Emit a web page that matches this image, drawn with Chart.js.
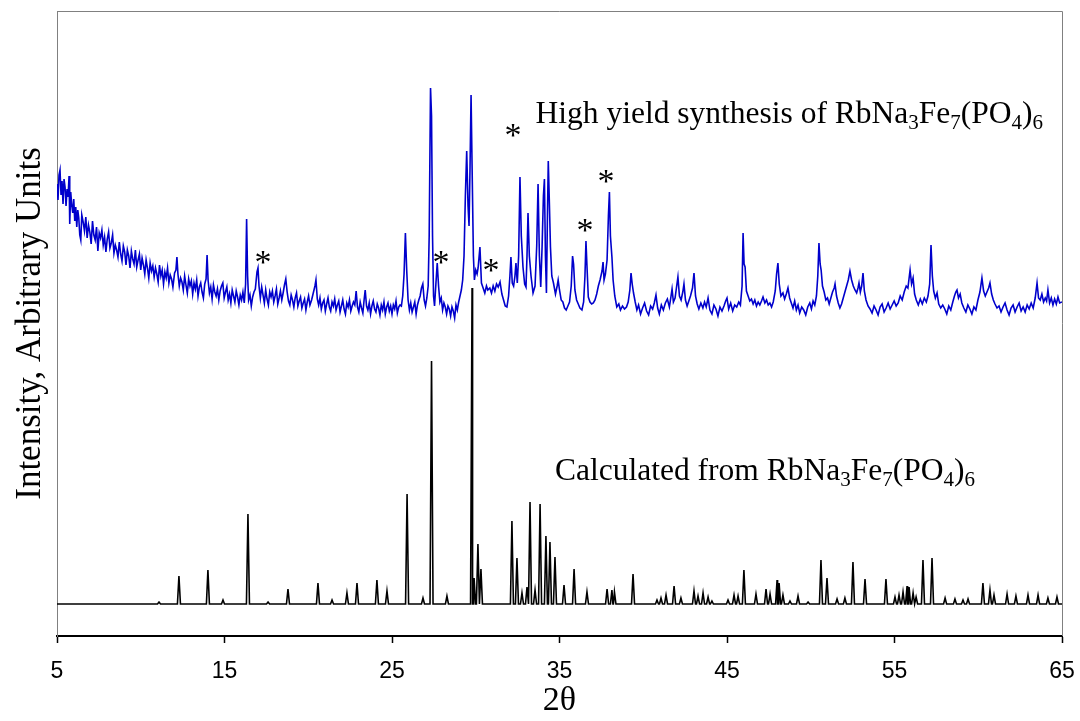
<!DOCTYPE html>
<html lang="en">
<head>
<meta charset="utf-8" />
<title>RbNa3Fe7(PO4)6 powder pattern</title>
<script src="https://cdn.jsdelivr.net/npm/chart.js"></script>
<style>
    html, body { margin: 0; padding: 0; background: #fff; }
    #xrd { display: block; }
</style>
</head>
<body>
<canvas id="xrd" width="1080" height="721"></canvas>
<script>
    const thetaTicks = [5, 15, 25, 35, 45, 55, 65];

    // measured pattern (2-theta, counts)
    const obsTheta = [
        5.00, 5.06, 5.12, 5.18, 5.24, 5.30, 5.36, 5.42, 5.48, 5.54,
        5.60, 5.66, 5.72, 5.76, 5.82, 5.88, 5.94, 6.00, 6.06, 6.12,
        6.18, 6.24, 6.30, 6.36, 6.42, 6.48, 6.56, 6.64, 6.72, 6.80,
        6.88, 6.96, 7.04, 7.12, 7.20, 7.28, 7.36, 7.44, 7.52, 7.60,
        7.68, 7.76, 7.84, 7.92, 8.00, 8.08, 8.16, 8.24, 8.32, 8.40,
        8.48, 8.56, 8.64, 8.72, 8.80, 8.88, 8.96, 9.04, 9.12, 9.20,
        9.28, 9.36, 9.44, 9.52, 9.60, 9.68, 9.76, 9.84, 9.92, 10.00,
        10.08, 10.16, 10.24, 10.32, 10.40, 10.48, 10.56, 10.64, 10.72, 10.80,
        10.88, 10.96, 11.04, 11.12, 11.20, 11.28, 11.36, 11.44, 11.52, 11.60,
        11.68, 11.76, 11.84, 11.92, 12.02, 12.10, 12.16, 12.22, 12.30, 12.38,
        12.46, 12.54, 12.62, 12.70, 12.78, 12.86, 12.94, 13.02, 13.10, 13.18,
        13.26, 13.34, 13.42, 13.50, 13.58, 13.66, 13.74, 13.82, 13.90, 13.96,
        14.02, 14.10, 14.18, 14.26, 14.34, 14.42, 14.50, 14.58, 14.66, 14.74,
        14.82, 14.90, 14.98, 15.06, 15.14, 15.22, 15.30, 15.38, 15.46, 15.54,
        15.62, 15.70, 15.78, 15.86, 15.94, 16.02, 16.10, 16.18, 16.26, 16.32,
        16.38, 16.44, 16.52, 16.60, 16.68, 16.76, 16.84, 16.94, 17.00, 17.06,
        17.14, 17.22, 17.30, 17.38, 17.46, 17.54, 17.62, 17.70, 17.78, 17.86,
        17.94, 18.02, 18.10, 18.18, 18.26, 18.34, 18.42, 18.50, 18.58, 18.66,
        18.74, 18.82, 18.90, 18.98, 19.06, 19.14, 19.22, 19.30, 19.38, 19.46,
        19.54, 19.62, 19.70, 19.78, 19.86, 19.94, 20.02, 20.10, 20.20, 20.30,
        20.40, 20.46, 20.54, 20.62, 20.70, 20.78, 20.86, 20.94, 21.02, 21.10,
        21.18, 21.26, 21.34, 21.42, 21.50, 21.58, 21.66, 21.74, 21.82, 21.90,
        21.98, 22.06, 22.14, 22.22, 22.30, 22.38, 22.46, 22.54, 22.62, 22.70,
        22.78, 22.86, 22.94, 23.02, 23.10, 23.18, 23.26, 23.34, 23.40, 23.48,
        23.56, 23.64, 23.72, 23.80, 23.88, 23.96, 24.04, 24.12, 24.20, 24.28,
        24.36, 24.44, 24.52, 24.60, 24.68, 24.76, 24.84, 24.92, 25.00, 25.08,
        25.16, 25.24, 25.32, 25.40, 25.48, 25.56, 25.64, 25.72, 25.80, 25.88,
        25.96, 26.04, 26.12, 26.20, 26.28, 26.36, 26.44, 26.52, 26.60, 26.68,
        26.76, 26.84, 26.92, 27.00, 27.08, 27.16, 27.22, 27.30, 27.36, 27.42,
        27.48, 27.54, 27.62, 27.70, 27.78, 27.86, 27.94, 28.02, 28.10, 28.18,
        28.26, 28.34, 28.42, 28.50, 28.58, 28.66, 28.74, 28.82, 28.90, 28.98,
        29.06, 29.14, 29.22, 29.30, 29.38, 29.46, 29.54, 29.60, 29.66, 29.72,
        29.78, 29.86, 29.92, 30.00, 30.08, 30.14, 30.25, 30.34, 30.44, 30.54,
        30.64, 30.72, 30.84, 30.94, 31.04, 31.14, 31.24, 31.34, 31.45, 31.56,
        31.66, 31.76, 31.86, 31.96, 32.04, 32.10, 32.18, 32.26, 32.34, 32.40,
        32.48, 32.56, 32.64, 32.72, 32.82, 32.92, 33.00, 33.06, 33.12, 33.20,
        33.30, 33.42, 33.54, 33.64, 33.72, 33.80, 33.88, 33.96, 34.04, 34.10,
        34.16, 34.22, 34.28, 34.33, 34.40, 34.46, 34.54, 34.64, 34.76, 34.86,
        34.92, 35.00, 35.10, 35.20, 35.30, 35.40, 35.50, 35.60, 35.70, 35.78,
        35.84, 35.92, 36.02, 36.12, 36.22, 36.34, 36.44, 36.52, 36.58, 36.64,
        36.72, 36.82, 36.92, 37.02, 37.12, 37.22, 37.32, 37.42, 37.54, 37.60,
        37.66, 37.74, 37.84, 37.92, 37.98, 38.04, 38.13, 38.20, 38.30, 38.42,
        38.54, 38.64, 38.76, 38.88, 39.00, 39.10, 39.20, 39.27, 39.34, 39.42,
        39.52, 39.62, 39.72, 39.84, 39.96, 40.08, 40.20, 40.32, 40.44, 40.56,
        40.66, 40.76, 40.86, 40.96, 41.08, 41.20, 41.32, 41.44, 41.56, 41.66,
        41.72, 41.80, 41.90, 41.98, 42.07, 42.16, 42.26, 42.36, 42.43, 42.52,
        42.62, 42.72, 42.82, 42.94, 43.03, 43.12, 43.22, 43.32, 43.44, 43.56,
        43.66, 43.76, 43.87, 43.98, 44.10, 44.22, 44.34, 44.46, 44.58, 44.70,
        44.82, 44.92, 45.00, 45.10, 45.22, 45.34, 45.46, 45.58, 45.70, 45.80,
        45.90, 45.96, 46.02, 46.08, 46.16, 46.26, 46.36, 46.46, 46.56, 46.66,
        46.76, 46.86, 46.96, 47.06, 47.15, 47.26, 47.36, 47.46, 47.56, 47.66,
        47.76, 47.88, 47.96, 48.04, 48.12, 48.22, 48.34, 48.44, 48.54, 48.64,
        48.74, 48.84, 48.94, 49.04, 49.14, 49.24, 49.34, 49.46, 49.58, 49.70,
        49.82, 49.94, 50.04, 50.14, 50.24, 50.34, 50.42, 50.49, 50.56, 50.62,
        50.70, 50.80, 50.90, 51.00, 51.10, 51.20, 51.30, 51.40, 51.45, 51.54,
        51.64, 51.74, 51.84, 51.94, 52.04, 52.14, 52.24, 52.34, 52.44, 52.54,
        52.64, 52.74, 52.82, 52.88, 52.96, 53.04, 53.12, 53.20, 53.30, 53.42,
        53.54, 53.66, 53.78, 53.90, 54.02, 54.14, 54.26, 54.38, 54.50, 54.62,
        54.74, 54.86, 54.98, 55.10, 55.22, 55.34, 55.46, 55.58, 55.70, 55.80,
        55.93, 56.02, 56.11, 56.20, 56.30, 56.42, 56.54, 56.66, 56.78, 56.90,
        57.00, 57.10, 57.18, 57.26, 57.34, 57.44, 57.54, 57.64, 57.76, 57.88,
        58.00, 58.12, 58.24, 58.36, 58.48, 58.58, 58.66, 58.73, 58.82, 58.92,
        59.02, 59.14, 59.26, 59.38, 59.50, 59.62, 59.74, 59.86, 59.98, 60.10,
        60.22, 60.32, 60.42, 60.52, 60.62, 60.70, 60.80, 60.90, 61.00, 61.12,
        61.24, 61.36, 61.48, 61.60, 61.72, 61.84, 61.96, 62.08, 62.20, 62.32,
        62.44, 62.56, 62.68, 62.80, 62.92, 63.04, 63.16, 63.28, 63.40, 63.51,
        63.60, 63.70, 63.80, 63.90, 64.00, 64.08, 64.16, 64.26, 64.36, 64.46,
        64.56, 64.66, 64.76, 64.86, 65.00
    ];
    const obsCounts = [
        452, 436, 461, 466, 441, 455, 432, 457, 449, 430,
        447, 439, 460, 412, 444, 431, 423, 437, 415, 429,
        409, 426, 418, 401, 396, 421, 414, 405, 419, 398,
        411, 404, 392, 415, 401, 396, 409, 385, 403, 398,
        406, 391, 399, 384, 397, 404, 388, 393, 401, 383,
        391, 386, 379, 394, 382, 375, 390, 384, 371, 386,
        380, 368, 385, 377, 372, 386, 369, 376, 382, 366,
        378, 371, 362, 376, 368, 358, 373, 365, 370, 359,
        368, 362, 354, 371, 360, 366, 352, 364, 358, 368,
        353, 361, 357, 349, 363, 366, 379, 362, 350, 358,
        354, 346, 360, 351, 343, 357, 350, 355, 342, 353,
        347, 356, 340, 349, 353, 344, 338, 352, 357, 381,
        356, 343, 349, 337, 351, 344, 340, 347, 336, 345,
        350, 353, 338, 344, 349, 336, 342, 333, 346, 340,
        334, 345, 339, 331, 341, 336, 344, 333, 352, 417,
        360, 336, 341, 330, 339, 344, 347, 364, 368, 350,
        338, 349, 341, 333, 346, 337, 331, 344, 339, 345,
        334, 340, 347, 332, 338, 345, 336, 343, 351, 357,
        344, 335, 331, 341, 336, 329, 338, 343, 330, 335,
        339, 328, 333, 337, 326, 334, 340, 331, 336, 343,
        350, 356, 337, 331, 338, 327, 333, 336, 325, 332,
        338, 329, 325, 334, 330, 337, 326, 331, 335, 324,
        330, 336, 327, 322, 333, 329, 336, 325, 330, 334,
        331, 345, 329, 324, 334, 328, 323, 337, 346, 330,
        326, 333, 322, 330, 335, 327, 324, 332, 328, 321,
        331, 326, 334, 322, 329, 333, 325, 330, 322, 331,
        327, 335, 323, 329, 331, 330, 340, 362, 403, 365,
        336, 326, 333, 324, 329, 334, 322, 331, 336, 340,
        348, 352, 336, 330, 338, 350, 400, 548, 520, 400,
        340, 330, 352, 373, 350, 334, 338, 326, 333, 329,
        322, 330, 327, 320, 329, 325, 318, 331, 326, 334,
        340, 346, 356, 380, 440, 485, 430, 410, 470, 541,
        471, 380, 356, 366, 362, 368, 389, 353, 348, 343,
        350, 346, 348, 343, 350, 345, 352, 349, 354, 342,
        336, 330, 329, 340, 360, 379, 353, 350, 360, 373,
        353, 380, 459, 400, 369, 352, 349, 380, 423, 380,
        360, 343, 350, 390, 452, 380, 349, 389, 440, 457,
        380, 343, 420, 475, 430, 389, 360, 353, 342, 350,
        356, 346, 336, 334, 328, 326, 330, 334, 350, 380,
        372, 346, 336, 332, 328, 326, 334, 360, 395, 370,
        339, 334, 332, 333, 336, 342, 350, 356, 365, 374,
        356, 362, 376, 420, 444, 400, 379, 356, 340, 329,
        332, 326, 330, 327, 329, 334, 346, 363, 352, 343,
        334, 326, 331, 322, 328, 333, 325, 321, 330, 327,
        333, 341, 328, 322, 331, 326, 333, 337, 329, 340,
        347, 334, 338, 348, 359, 340, 336, 344, 352, 336,
        330, 335, 340, 348, 363, 340, 332, 327, 333, 328,
        334, 329, 338, 326, 322, 331, 327, 320, 329, 325,
        330, 335, 338, 327, 333, 325, 331, 329, 334, 331,
        350, 403, 372, 369, 345, 340, 335, 337, 332, 336,
        330, 334, 331, 335, 339, 333, 336, 331, 333, 329,
        334, 345, 362, 373, 352, 340, 343, 337, 342, 348,
        338, 333, 328, 335, 326, 331, 323, 329, 326, 321,
        329, 333, 327, 335, 331, 340, 360, 393, 372, 366,
        350, 344, 336, 338, 332, 338, 344, 348, 352, 340,
        333, 328, 332, 338, 344, 350, 356, 365, 356, 350,
        346, 343, 348, 353, 344, 350, 363, 345, 336, 330,
        327, 323, 330, 326, 321, 329, 332, 324, 328, 333,
        327, 331, 335, 330, 333, 340, 336, 344, 350, 348,
        366, 352, 358, 342, 336, 331, 337, 332, 338, 334,
        340, 352, 391, 360, 345, 338, 343, 332, 328, 331,
        327, 322, 330, 326, 334, 340, 344, 346, 338, 342,
        333, 328, 324, 331, 327, 322, 329, 326, 336, 344,
        358, 345, 340, 344, 348, 353, 342, 336, 332, 328,
        330, 324, 329, 333, 326, 321, 328, 331, 324, 329,
        333, 325, 329, 324, 331, 327, 333, 328, 338, 353,
        338, 336, 342, 334, 338, 335, 346, 333, 338, 331,
        337, 332, 339, 333, 334
    ];

    // calculated pattern: reflection positions and peak tops on a flat background
    const calcBaseline = 32;
    const calcTheta = [
        11.09, 12.28, 14.01, 14.91, 16.40, 17.60, 18.79, 20.58, 21.42, 22.31,
        22.91, 24.10, 24.70, 25.90, 26.85, 27.36, 28.28, 29.78, 29.90, 30.13,
        30.31, 32.16, 32.46, 32.76, 33.06, 33.24, 33.54, 33.84, 34.19, 34.43,
        34.73, 35.27, 35.87, 36.64, 37.84, 38.13, 38.28, 39.39, 40.82, 41.06,
        41.36, 41.84, 42.25, 43.03, 43.27, 43.57, 43.87, 44.10, 45.06, 45.42,
        45.66, 46.01, 46.73, 47.33, 47.57, 47.99, 48.11, 48.34, 48.76, 49.24,
        49.84, 50.61, 50.97, 51.57, 52.04, 52.52, 53.24, 54.49, 55.03, 55.27,
        55.51, 55.75, 55.87, 56.11, 56.29, 56.70, 57.24, 58.02, 58.61, 59.09,
        59.39, 60.28, 60.70, 60.94, 61.72, 62.25, 62.97, 63.57, 64.16, 64.70
    ];
    const calcHeight = [
        34, 60, 66, 36, 122, 34, 47, 53, 36, 43,
        53, 56, 45, 142, 38, 275, 40, 348, 58, 92,
        67, 115, 78, 43, 49, 134, 46, 132, 100, 94,
        79, 51, 67, 44, 47, 46, 44, 62, 36, 38,
        41, 50, 38, 45, 40, 43, 39, 35, 36, 41,
        40, 66, 42, 47, 42, 56, 53, 41, 35, 40,
        34, 76, 58, 37, 38, 74, 57, 57, 39, 41,
        44, 50, 49, 43, 39, 76, 78, 38, 37, 36,
        37, 53, 46, 41, 42, 40, 41, 41, 38, 39
    ];

    // impurity reflections marked with an asterisk
    const starTheta = [17.30, 27.93, 30.91, 32.22, 36.52, 37.78];
    const starLevel = [378, 378, 370, 505, 410, 459];

    const obsLabel = [['High yield synthesis of RbNa', 0], ['3', 1], ['Fe', 0], ['7', 1], ['(PO', 0], ['4', 1], [')', 0], ['6', 1]];
    const calcLabel = [['Calculated from RbNa', 0], ['3', 1], ['Fe', 0], ['7', 1], ['(PO', 0], ['4', 1], [')', 0], ['6', 1]];

    const SERIF = '"Liberation Serif", "Times New Roman", serif';
    const SANS = '"Liberation Sans", Arial, sans-serif';

    function calcProfile() {
        const pts = [{ x: 5, y: calcBaseline }];
        calcTheta.forEach((t, i) => {
            pts.push({ x: t - 0.09, y: calcBaseline }, { x: t, y: calcHeight[i] }, { x: t + 0.09, y: calcBaseline });
        });
        pts.push({ x: 65, y: calcBaseline });
        return pts.sort((a, b) => a.x - b.x);
    }

    function drawFormula(ctx, parts, x, y, size) {
        ctx.textAlign = 'left';
        ctx.textBaseline = 'alphabetic';
        parts.forEach(([txt, sub]) => {
            ctx.font = (sub ? Math.round(size * 0.66) : size) + 'px ' + SERIF;
            ctx.fillText(txt, x, sub ? y + size * 0.2 : y);
            x += ctx.measureText(txt).width;
        });
    }

    // grey box on the top and right side of the plot
    const framePlugin = {
        id: 'frame',
        beforeDatasetsDraw(chart) {
            const { ctx, chartArea: a } = chart;
            ctx.save();
            ctx.strokeStyle = '#808080';
            ctx.lineWidth = 1;
            ctx.beginPath();
            ctx.moveTo(a.left, a.top + 0.5);
            ctx.lineTo(a.right + 0.5, a.top + 0.5);
            ctx.lineTo(a.right + 0.5, a.bottom);
            ctx.stroke();
            ctx.restore();
        }
    };

    const notesPlugin = {
        id: 'notes',
        afterDatasetsDraw(chart) {
            const { ctx, scales: { x, y } } = chart;
            ctx.save();
            ctx.fillStyle = '#000';
            drawFormula(ctx, obsLabel, x.getPixelForValue(33.57), y.getPixelForValue(513), 31.5);
            drawFormula(ctx, calcLabel, x.getPixelForValue(34.73), y.getPixelForValue(156), 31.5);
            ctx.font = '34px ' + SERIF;
            ctx.textAlign = 'center';
            ctx.textBaseline = 'alphabetic';
            starTheta.forEach((t, i) => {
                ctx.fillText('*', x.getPixelForValue(t), y.getPixelForValue(starLevel[i]) + 15);
            });
            ctx.restore();
        }
    };

    const observed = obsTheta.map((t, i) => ({ x: t, y: obsCounts[i] }));

    new Chart(document.getElementById('xrd'), {
        type: 'scatter',
        data: {
            datasets: [
                {
                    label: 'Calculated',
                    data: calcProfile(),
                    showLine: true,
                    borderColor: '#000000',
                    borderWidth: 1.6,
                    pointRadius: 0,
                    tension: 0
                },
                {
                    label: 'Observed',
                    data: observed,
                    showLine: true,
                    borderColor: '#0000cc',
                    borderWidth: 1.6,
                    pointRadius: 0,
                    tension: 0
                }
            ]
        },
        options: {
            responsive: false,
            animation: false,
            devicePixelRatio: 1,
            layout: { padding: { left: 0, right: 18, top: 11, bottom: 0 } },
            plugins: {
                legend: { display: false },
                tooltip: { enabled: false }
            },
            scales: {
                x: {
                    type: 'linear',
                    min: 5,
                    max: 65,
                    afterBuildTicks: axis => { axis.ticks = thetaTicks.map(v => ({ value: v })); },
                    grid: { display: true, drawOnChartArea: false, drawTicks: true, tickLength: 7, tickColor: '#000', tickWidth: 1.5 },
                    border: { display: true, color: '#000', width: 2 },
                    ticks: { font: { family: SANS, size: 23 }, color: '#000', padding: 15, maxRotation: 0, autoSkip: false },
                    title: { display: true, text: '2θ', font: { family: SERIF, size: 34 }, color: '#000', padding: { top: 0, bottom: 0 } },
                    afterFit: s => { s.height = 85; s.paddingLeft = 0; s.paddingRight = 0; }
                },
                y: {
                    min: 0,
                    max: 625,
                    ticks: { display: false },
                    grid: { display: false },
                    border: { display: true, color: '#808080', width: 1 },
                    title: { display: true, text: 'Intensity, Arbitrary Units', font: { family: SERIF, size: 35 }, color: '#000', padding: { top: 10, bottom: 0 } },
                    afterFit: s => { s.width = 57; }
                }
            }
        },
        plugins: [framePlugin, notesPlugin]
    });
</script>
</body>
</html>
